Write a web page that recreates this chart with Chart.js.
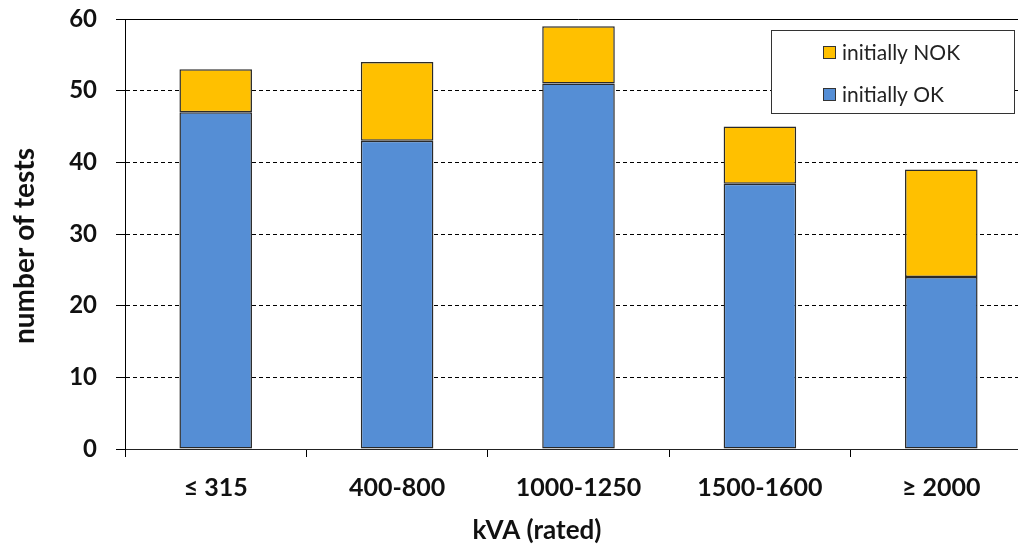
<!DOCTYPE html>
<html>
<head>
<meta charset="utf-8">
<style>
  html, body { margin: 0; padding: 0; background: #fff; overflow: hidden; width: 1018px; height: 551px; }
  #wrap { width: 1046px; height: 551px; }
</style>
<script src="https://cdn.jsdelivr.net/npm/chart.js@4/dist/chart.umd.min.js"></script>
</head>
<body>
<div id="wrap"><canvas id="c" width="1046" height="551"></canvas></div>
<script>
// Transformer ratings and test counts
const categories = ['≤ 315', '400-800', '1000-1250', '1500-1600', '≥ 2000'];
const initiallyOK = [47, 43, 51, 37, 24];
const initiallyNOK = [6, 11, 8, 8, 15];
const yMin = 0, yMax = 60, yStep = 10;
const xTitle = 'kVA (rated)';
const yTitle = 'number of tests';

const FONT = 'Lato, "Open Sans", sans-serif';

// Solid frame line along the top of the plot (at the axis maximum)
const topLine = {
  id: 'topLine',
  afterDatasetsDraw(chart) {
    const { ctx, chartArea, scales } = chart;
    const y = Math.round(scales.y.getPixelForValue(yMax)) + 0.5;
    ctx.save();
    ctx.strokeStyle = '#000';
    ctx.lineWidth = 1;
    ctx.beginPath();
    ctx.moveTo(chartArea.left, y);
    ctx.lineTo(chartArea.right, y);
    ctx.stroke();
    ctx.restore();
  }
};

// Axis titles, placed relative to the plot area
const axisTitles = {
  id: 'axisTitles',
  afterDraw(chart) {
    const { ctx, chartArea } = chart;
    ctx.save();
    ctx.fillStyle = '#111';
    ctx.textAlign = 'center';
    ctx.textBaseline = 'middle';
    ctx.font = 'bold 26px ' + FONT;
    ctx.fillText(xTitle, chartArea.left + 412, chartArea.bottom + 82);
    ctx.translate(chartArea.left - 100, chartArea.top + 227);
    ctx.rotate(-Math.PI / 2);
    ctx.font = 'bold 28px ' + FONT;
    ctx.fillText(yTitle, 0, 0);
    ctx.restore();
  }
};

// Boxed legend in the upper right, last series listed first
const boxLegend = {
  id: 'boxLegend',
  afterDraw(chart) {
    const { ctx, chartArea } = chart;
    const left = chartArea.right - 261, top = chartArea.top + 11;
    const w = 243, h = 83;
    ctx.save();
    ctx.fillStyle = '#fff';
    ctx.fillRect(left, top, w, h);
    ctx.strokeStyle = '#333';
    ctx.lineWidth = 1;
    ctx.strokeRect(left + 0.5, top + 0.5, w, h);
    const items = chart.data.datasets.slice().reverse();
    ctx.font = '21px ' + FONT;
    ctx.textBaseline = 'middle';
    items.forEach((ds, i) => {
      const cy = top + 22 + i * 42;
      ctx.fillStyle = ds.backgroundColor;
      ctx.fillRect(left + 52, cy - 6, 13, 13);
      ctx.strokeStyle = '#333';
      ctx.strokeRect(left + 52.5, cy - 5.5, 12, 12);
      ctx.fillStyle = '#222';
      ctx.fillText(ds.label, left + 71, cy + 1);
    });
    ctx.restore();
  }
};

new Chart(document.getElementById('c'), {
  type: 'bar',
  data: {
    labels: categories,
    datasets: [
      { label: 'initially OK', data: initiallyOK, backgroundColor: '#558ED5',
        borderColor: '#2a2a2a', borderWidth: 1.5, borderSkipped: false },
      { label: 'initially NOK', data: initiallyNOK, backgroundColor: '#FFC000',
        borderColor: '#2a2a2a', borderWidth: 1.5, borderSkipped: false }
    ]
  },
  options: {
    responsive: false,
    animation: false,
    devicePixelRatio: 1,
    datasets: { bar: { barPercentage: 0.4, categoryPercentage: 1.0 } },
    layout: { padding: { top: 19, right: 14, left: 0, bottom: 0 } },
    plugins: { legend: { display: false }, tooltip: { enabled: false } },
    scales: {
      x: {
        stacked: true,
        afterFit(s) { s.height = 102; s.paddingLeft = 0; s.paddingRight = 0; },
        grid: { display: true, drawOnChartArea: false, drawTicks: true, tickLength: 8,
                color: '#000', tickColor: '#000', offset: true },
        border: { display: true, color: '#222', width: 1 },
        ticks: { color: '#111', padding: 16, font: { family: FONT, size: 25, weight: 'bold' } }
      },
      y: {
        stacked: true,
        min: yMin, max: yMax,
        afterFit(s) { s.width = 125; s.paddingTop = 0; s.paddingBottom = 0; },
        ticks: { stepSize: yStep, color: '#111', padding: 19,
                 font: { family: FONT, size: 24, weight: 'bold' } },
        grid: {
          drawTicks: true, tickLength: 9, tickColor: '#000', tickBorderDash: [],
          color: (c) => (c.tick && (c.tick.value === yMin || c.tick.value === yMax)) ? 'rgba(0,0,0,0)' : '#000',
          lineWidth: 1
        },
        border: { display: true, color: '#000', width: 1, dash: [4, 3] }
      }
    }
  },
  plugins: [topLine, axisTitles, boxLegend]
});
</script>
</body>
</html>
